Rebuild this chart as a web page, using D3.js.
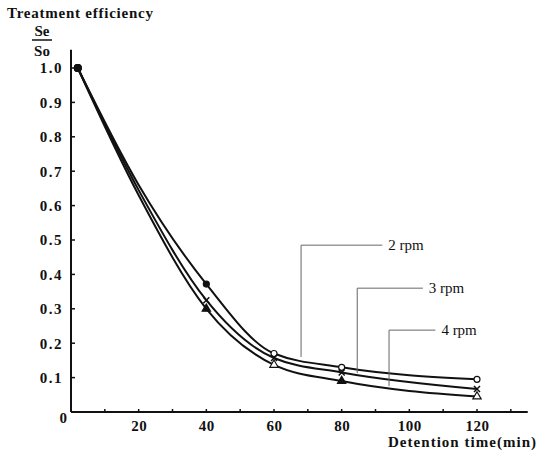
<!DOCTYPE html>
<html>
<head>
<meta charset="utf-8">
<script src="https://cdn.jsdelivr.net/npm/d3@7"></script>
<style>
  body { margin: 0; background: #fff; }
  text { font-family: "Liberation Serif", "DejaVu Serif", serif; fill: #111; }
</style>
</head>
<body>
<svg id="chart" width="539" height="459"></svg>
<script>
// data
const times = [2, 20, 40, 60, 80, 120];
const rpm2 = [1.0, 0.66, 0.372, 0.17, 0.13, 0.095];
const rpm3 = [1.0, 0.645, 0.325, 0.157, 0.115, 0.067];
const rpm4 = [1.0, 0.63, 0.30, 0.137, 0.09, 0.045];
const markedTimes = [2, 40, 60, 80, 120];
const xTicks = [20, 40, 60, 80, 100, 120];
const xMinor = [10, 30, 50, 70, 90, 110, 130];
const yTicks = [0.1, 0.2, 0.3, 0.4, 0.5, 0.6, 0.7, 0.8, 0.9, 1.0];
// leader lines: label, x of vertical, top y, bottom y, end x of horizontal
const labels = ["2 rpm", "3 rpm", "4 rpm"];
const labelX = [68, 84.6, 94];
const labelTop = [0.485, 0.36, 0.238];
const labelBottom = [0.16, 0.113, 0.075];
const labelEnd = [92, 104, 107.7];

let svg = d3.select("#chart");

let x = d3.scaleLinear().domain([0, 120]).range([71, 477]);
let y = d3.scaleLinear().domain([0, 1]).range([412, 68]);

// axes
let xAxis = d3.axisBottom(x).tickValues(xTicks).tickSize(0).tickPadding(8)
    .tickFormat(d3.format("d"));
let yAxis = d3.axisLeft(y).tickValues(yTicks).tickSize(0).tickPadding(8)
    .tickFormat(d => d.toFixed(1));

let gx = svg.append("g").attr("transform", `translate(0, ${y(0)})`).call(xAxis);
gx.select(".domain").remove();
gx.selectAll("text").attr("font-size", 15).attr("font-weight", "bold")
    .attr("font-family", "Liberation Serif").attr("letter-spacing", 0.5);

let gy = svg.append("g").attr("transform", `translate(${x(0)}, 0)`).call(yAxis);
gy.select(".domain").remove();
gy.selectAll("text").attr("font-size", 15).attr("font-weight", "bold")
    .attr("font-family", "Liberation Serif").attr("letter-spacing", 1.5);

svg.append("line")
    .attr("x1", x(0)).attr("x2", x(135))
    .attr("y1", y(0)).attr("y2", y(0))
    .attr("stroke", "#111").attr("stroke-width", 2);
svg.append("line")
    .attr("x1", x(0)).attr("x2", x(0))
    .attr("y1", y(0)).attr("y2", y(1.053))
    .attr("stroke", "#111").attr("stroke-width", 2);

// tick marks crossing the axes
svg.selectAll(".xt")
    .data(xTicks.concat(xMinor))
    .enter()
    .append("line")
    .attr("x1", d => x(d)).attr("x2", d => x(d))
    .attr("y1", y(0) - 3).attr("y2", y(0) + 1)
    .attr("stroke", "#111").attr("stroke-width", 1.5);
svg.selectAll(".yt")
    .data(yTicks)
    .enter()
    .append("line")
    .attr("x1", x(0)).attr("x2", x(0) + 4)
    .attr("y1", d => y(d)).attr("y2", d => y(d))
    .attr("stroke", "#111").attr("stroke-width", 1.5);

svg.append("text").attr("x", x(0) - 4).attr("y", y(0) + 11)
    .attr("text-anchor", "end").attr("font-size", 15).attr("font-weight", "bold").text("0");

// titles
svg.append("text").attr("x", 7).attr("y", 18)
    .attr("font-size", 15).attr("font-weight", "bold")
    .attr("textLength", 146).attr("lengthAdjust", "spacing")
    .text("Treatment efficiency");
svg.append("text").attr("x", 42).attr("y", 36).attr("text-anchor", "middle")
    .attr("font-size", 15).attr("font-weight", "bold").text("Se");
svg.append("line").attr("x1", 32).attr("x2", 52).attr("y1", 40).attr("y2", 40)
    .attr("stroke", "#111").attr("stroke-width", 1.5);
svg.append("text").attr("x", 42).attr("y", 56).attr("text-anchor", "middle")
    .attr("font-size", 15).attr("font-weight", "bold").text("So");
svg.append("text").attr("x", 388).attr("y", 447)
    .attr("font-size", 15).attr("font-weight", "bold")
    .attr("textLength", 148).attr("lengthAdjust", "spacing")
    .text("Detention time(min)");

// curves
let series = [rpm2, rpm3, rpm4];
let line = d3.line()
    .x(d => x(d[0]))
    .y(d => y(d[1]))
    .curve(d3.curveMonotoneX);

series.forEach((s, i) => {
    let pts = times.map((t, j) => [t, s[j]]);
    svg.append("path")
        .attr("d", line(pts))
        .attr("fill", "none")
        .attr("stroke", "#111")
        .attr("stroke-width", 2);

    let marked = pts.filter(p => markedTimes.includes(p[0]));
    marked.forEach(p => {
        let cx = x(p[0]), cy = y(p[1]);
        if (p[0] === 2) {
            svg.append("circle").attr("cx", cx).attr("cy", cy).attr("r", 4).attr("fill", "#111");
        } else if (i === 0) {
            svg.append("circle").attr("cx", cx).attr("cy", cy).attr("r", 3)
                .attr("fill", p[0] === 40 ? "#111" : "#fff")
                .attr("stroke", "#111").attr("stroke-width", 1.2);
        } else if (i === 1) {
            svg.append("path")
                .attr("d", `M${cx - 3},${cy - 3}L${cx + 3},${cy + 3}M${cx - 3},${cy + 3}L${cx + 3},${cy - 3}`)
                .attr("stroke", "#111").attr("stroke-width", 1.5);
        } else {
            svg.append("path")
                .attr("d", d3.symbol().type(d3.symbolTriangle).size(30)())
                .attr("transform", `translate(${cx}, ${cy})`)
                .attr("fill", p[0] === 120 || p[0] === 60 ? "#fff" : "#111")
                .attr("stroke", "#111").attr("stroke-width", 1.2);
        }
    });
});

// leader lines with labels
labels.forEach((lab, i) => {
    svg.append("path")
        .attr("d", `M${x(labelX[i])},${y(labelBottom[i])}V${y(labelTop[i])}H${x(labelEnd[i])}`)
        .attr("fill", "none")
        .attr("stroke", "#666")
        .attr("stroke-width", 1);
    svg.append("text")
        .attr("x", x(labelEnd[i]) + 6)
        .attr("y", y(labelTop[i]) + 5)
        .attr("font-size", 15)
        .text(lab);
});
</script>
</body>
</html>
